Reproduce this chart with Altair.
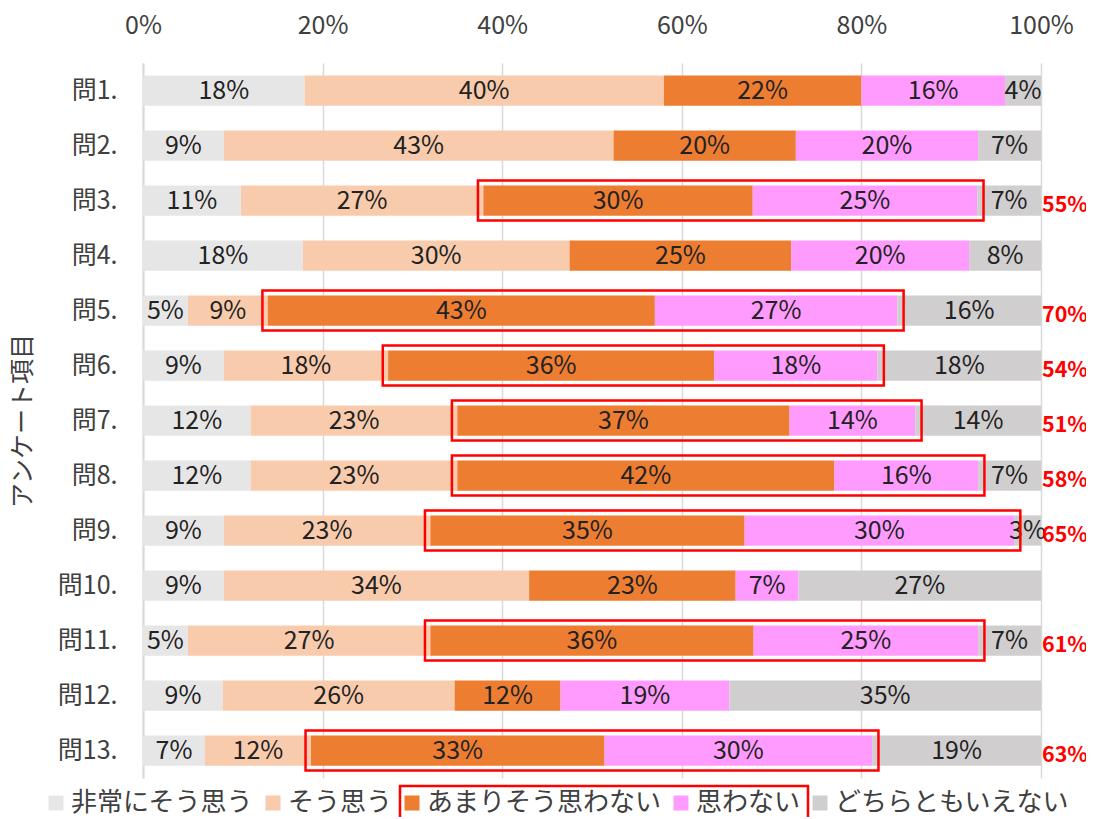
import altair as alt
import pandas as pd

questions = [f"問{i}." for i in range(1, 14)]
categories = ["非常にそう思う", "そう思う", "あまりそう思わない", "思わない", "どちらともいえない"]
colors = ["#E7E6E6", "#F8CBAD", "#ED7D31", "#FF9BFF", "#D0CECE"]

very_agree    = [18, 9, 10.9, 17.8, 5, 9, 12, 12, 9, 9, 5, 8.9, 6.9]
agree         = [40, 43.4, 27, 29.7, 8.9, 18.3, 23, 23, 23, 34, 27, 25.8, 11.8]
not_much      = [22, 20.3, 30, 24.7, 43.1, 36.3, 37, 42, 35, 23, 36, 11.8, 32.7]
disagree      = [16, 20.3, 25, 19.8, 27, 18.2, 14, 16, 30, 7, 25, 18.8, 29.8]
neutral       = [4, 7, 7.1, 8.0, 16, 18.2, 14, 7, 3, 27, 7, 34.7, 18.8]

highlighted = ["問3.", "問5.", "問6.", "問7.", "問8.", "問9.", "問11.", "問13."]

series = [very_agree, agree, not_much, disagree, neutral]

rows = []
boxes = []
for qi, q in enumerate(questions):
    start = 0.0
    seg = {}
    for ci, cat in enumerate(categories):
        v = series[ci][qi]
        rows.append({"q": q, "cat": cat, "order": ci, "start": start, "end": start + v,
                     "mid": start + v / 2, "label": f"{round(v)}%"})
        seg[ci] = (start, start + v, round(v))
        start += v
    if q in highlighted:
        boxes.append({"q": q, "b0": seg[2][0] - 0.6, "b1": seg[3][1] + 0.7,
                      "total": f"{seg[2][2] + seg[3][2]}%"})

df = pd.DataFrame(rows)
bdf = pd.DataFrame(boxes)

FONT = "Noto Sans CJK JP"
W, H = 898, 715

y = alt.Y("q:N", sort=questions,
          scale=alt.Scale(paddingInner=0.45, paddingOuter=0.225),
          axis=alt.Axis(title="アンケート項目", titleFontSize=25, titleFontWeight="normal",
                        titleColor="#404040", titlePadding=22,
                        labelFontSize=25, labelColor="#404040", labelPadding=26,
                        ticks=False, domain=True, domainColor="#D9D9D9", domainWidth=2))

xscale = alt.Scale(domain=[0, 100], nice=False)

bars = alt.Chart(df).mark_bar().encode(
    x=alt.X("start:Q", scale=xscale,
            axis=alt.Axis(orient="top", values=[0, 20, 40, 60, 80, 100],
                          labelExpr="datum.value + '%'", title=None,
                          labelFontSize=25, labelColor="#404040", labelPadding=25,
                          labelFlush=False, labelOverlap=False,
                          grid=True, gridColor="#D9D9D9", gridWidth=1.5,
                          domain=False, ticks=False)),
    x2="end:Q",
    y=y,
    color=alt.Color("cat:N", sort=categories,
                    scale=alt.Scale(domain=categories, range=colors),
                    legend=alt.Legend(title=None, orient="none", direction="horizontal",
                                      legendX=-100, legendY=727,
                                      labelFontSize=26, labelColor="#404040", labelLimit=0,
                                      symbolType="square", symbolSize=225,
                                      symbolStrokeWidth=0, columnPadding=6,
                                      labelOffset=2)),
    order=alt.Order("order:Q"),
)

texts = alt.Chart(df).mark_text(fontSize=25, color="#222222", font=FONT).encode(
    x=alt.X("mid:Q", scale=xscale),
    y=alt.Y("q:N", sort=questions),
    text="label:N",
)

box = alt.Chart(bdf).mark_bar(filled=False, stroke="#FF0000", strokeWidth=2.5, size=40).encode(
    x=alt.X("b0:Q", scale=xscale),
    x2="b1:Q",
    y=alt.Y("q:N", sort=questions),
)

totals = alt.Chart(bdf).mark_text(fontSize=21.5, fontWeight="bold", color="#FF0000",
                                  align="left", dx=1, dy=5, font=FONT).encode(
    x=alt.value(W),
    y=alt.Y("q:N", sort=questions),
    text="total:N",
)

legend_box = alt.Chart(pd.DataFrame({"a": [0]})).mark_rect(
    filled=False, stroke="#FF0000", strokeWidth=2.5).encode(
    x=alt.value(257), x2=alt.value(665), y=alt.value(723), y2=alt.value(775),
)

chart = alt.layer(bars, texts, box, totals, legend_box).properties(
    width=W, height=H,
    autosize=alt.AutoSizeParams(type="none"),
    padding={"left": 135, "top": 55, "right": 45, "bottom": 39},
).configure(font=FONT).configure_view(stroke=None)

chart.save("out.html", embed_options={"renderer": "svg", "actions": False})
